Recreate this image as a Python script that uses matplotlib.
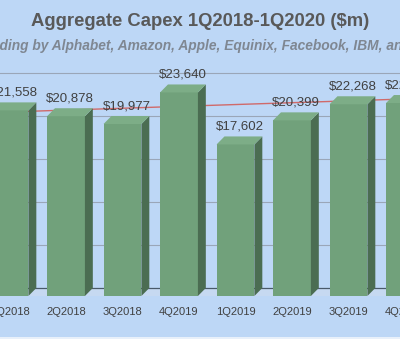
import matplotlib.pyplot as plt
import numpy as np
from matplotlib.patches import Polygon, Rectangle

quarters = ['1Q2018', '2Q2018', '3Q2018', '4Q2019', '1Q2019',
            '2Q2019', '3Q2019', '4Q2019', '1Q2020']
capex = [21558, 20878, 19977, 23640, 17602, 20399, 22268, 22412, 23300]
gridlines = [5000, 10000, 15000, 20000, 25000]

title = 'Aggregate Capex 1Q2018-1Q2020 ($m)'
subtitle = 'Spending by Alphabet, Amazon, Apple, Equinix, Facebook, IBM, and Microsoft'


def main():
    bg = '#BDD7F6'
    front, side, top = '#71A17B', '#4B6D52', '#7DAD87'
    dx, dy = 0.14, 930      # fake 3d depth
    width = 0.67

    plt.rcParams['font.family'] = 'Liberation Sans'
    fig = plt.figure(figsize=(4, 3.39), dpi=100, facecolor=bg)
    ax = fig.add_axes([0, 0, 1, 1])
    ax.set_facecolor(bg)
    ax.axis('off')
    ax.set_xlim(-0.168, 6.912)
    ax.set_ylim(-4994, 34379)

    x = np.arange(len(capex))
    lo, hi = -1, len(capex)

    # floor + back wall grid
    ax.add_patch(Polygon([(lo, 0), (hi, 0), (hi + dx, dy), (lo + dx, dy)],
                         closed=True, fc='#C6D9F1', ec='none', zorder=1))
    for g in gridlines:
        ax.plot([lo + dx, hi + dx], [g + dy, g + dy], color='#9AA6B8', lw=0.8, zorder=1)
    ax.plot([lo + dx, hi + dx], [dy, dy], color='#4A5A6A', lw=0.9, zorder=1)

    # trendline on the back plane
    coef = np.polyfit(x, capex, 1)
    xs = np.array([lo, hi])
    ax.plot(xs + dx, np.polyval(coef, xs) + dy, color='#D06A6A', lw=1, zorder=2)

    for i, v in zip(x, capex):
        l, r = i - width / 2, i + width / 2
        ax.add_patch(Rectangle((l, 0), width, v, fc=front, ec='none', zorder=3))
        ax.add_patch(Polygon([(r, 0), (r + dx, dy), (r + dx, v + dy), (r, v)],
                             closed=True, fc=side, ec='none', zorder=3))
        ax.add_patch(Polygon([(l, v), (r, v), (r + dx, v + dy), (l + dx, v + dy)],
                             closed=True, fc=top, ec='none', zorder=3))
        ax.text(i + dx / 2, v + dy + 1100, f'${v:,}', ha='center', va='center',
                fontsize=9.5, color='#404040', zorder=4)
        ax.text(i, -1860, quarters[i], ha='center', va='center',
                fontsize=8, color='#404040')

    fig.text(0.5, 1 - 22 / 339, title, ha='center', va='center',
             fontsize=13.3, fontweight='bold', color='#595959')
    fig.text(-34 / 400, 1 - 46 / 339, subtitle, ha='left', va='center',
             fontsize=9.9, fontweight='bold', fontstyle='italic', color='#7F8792')

    fig.patches.append(Rectangle((0, 0), 1, 2 / 339, transform=fig.transFigure,
                                 fc='#E8F0FA', ec='none'))
    fig.savefig('out.png', dpi=100, facecolor=bg)


if __name__ == '__main__':
    main()
